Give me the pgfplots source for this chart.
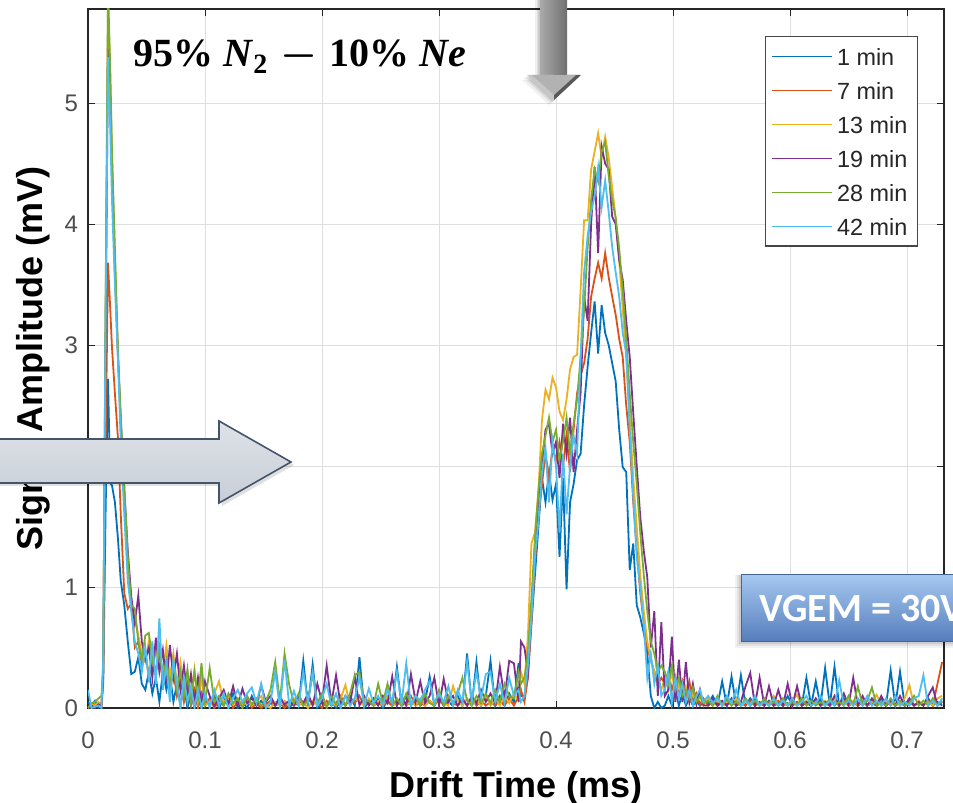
\documentclass[border=0pt]{standalone}
\usepackage{fontspec}
\setmainfont{Liberation Sans}
\newfontfamily\carlito{Carlito}
\newfontfamily\serifb{Liberation Serif}
\usepackage{pgfplots}
\usepackage{pgfplotstable}
\pgfplotsset{compat=1.18}
\definecolor{c1}{RGB}{0,114,189}
\definecolor{c2}{RGB}{217,83,25}
\definecolor{c3}{RGB}{237,177,32}
\definecolor{c4}{RGB}{126,47,142}
\definecolor{c5}{RGB}{119,172,48}
\definecolor{c6}{RGB}{77,190,238}
\definecolor{axcol}{RGB}{38,38,38}
\definecolor{legcol}{RGB}{70,70,70}
\definecolor{gridc}{RGB}{223,223,223}
\definecolor{ticklab}{RGB}{77,77,77}
\definecolor{ag1}{RGB}{170,170,170}
\definecolor{ag2}{RGB}{112,112,112}
\definecolor{arfill1}{RGB}{222,226,232}
\definecolor{arfill2}{RGB}{200,206,215}
\definecolor{arline}{RGB}{68,84,106}
\definecolor{bx1}{RGB}{165,200,240}
\definecolor{bx2}{RGB}{125,162,214}
\definecolor{bx3}{RGB}{85,125,188}

\pgfplotstableread{
x a b c d e f
0.000 0.05 0.00 0.00 0.00 0.00 0.15
0.003 0.02 0.02 0.03 0.02 0.04 0.00
0.006 0.06 0.03 0.02 0.00 0.05 0.01
0.009 0.00 0.02 0.05 0.03 0.08 0.02
0.0115 0.03 0.01 0.02 0.01 0.10 0.00
0.013 0.20 0.25 0.30 0.30 0.35 0.40
0.015 1.60 2.10 3.20 3.00 3.30 3.20
0.0171 2.72 3.68 5.85 5.45 5.95 5.38
0.019 1.86 3.30 5.20 5.00 5.30 4.80
0.0205 1.84 2.98 4.60 4.40 4.60 4.20
0.023 1.70 2.60 3.70 3.60 3.80 3.50
0.0256 1.40 2.23 2.95 2.90 2.95 2.88
0.028 1.05 1.60 2.30 2.40 2.40 2.20
0.031 0.85 0.95 1.75 1.80 1.85 1.60
0.034 0.55 0.82 1.20 1.30 1.25 1.05
0.037 0.28 0.86 0.88 0.92 0.85 0.80
0.040 0.30 0.50 0.75 0.70 0.82 0.55
0.043 0.42 0.55 0.60 0.93 0.55 0.45
0.046 0.20 0.36 0.45 0.55 0.40 0.30
0.049 0.15 0.48 0.38 0.40 0.60 0.50
0.052 0.30 0.25 0.55 0.50 0.62 0.22
0.055 0.12 0.40 0.30 0.25 0.40 0.55
0.058 0.25 0.30 0.48 0.58 0.30 0.20
0.061 0.05 0.45 0.35 0.30 0.50 0.74
0.064 0.30 0.20 0.30 0.48 0.25 0.15
0.067 0.15 0.35 0.52 0.20 0.40 0.35
0.070 0.28 0.15 0.25 0.52 0.18 0.05
0.073 0.05 0.30 0.45 0.25 0.35 0.40
0.076 0.20 0.10 0.20 0.45 0.15 0.20
0.079 0.02 0.25 0.38 0.15 0.30 0.00
0.082 0.18 0.05 0.15 0.35 0.10 0.25
0.085 0.00 0.20 0.30 0.10 0.32 0.05
0.088 0.12 0.02 0.10 0.28 0.05 0.18
0.091 0.00 0.15 0.32 0.05 0.30 0.00
0.094 0.10 0.00 0.05 0.25 0.08 0.15
0.097 0.00 0.12 0.25 0.02 0.37 0.00
0.100 0.08 0.02 0.02 0.22 0.05 0.12
0.104 0.02 0.08 0.05 0.10 0.33 0.00
0.108 0.10 0.00 0.12 0.02 0.05 0.15
0.112 0.00 0.06 0.22 0.08 0.10 0.02
0.116 0.08 0.02 0.04 0.15 0.02 0.12
0.120 0.02 0.10 0.10 0.03 0.12 0.00
0.124 0.12 0.00 0.03 0.18 0.04 0.08
0.128 0.00 0.05 0.08 0.02 0.08 0.15
0.132 0.05 0.02 0.02 0.16 0.00 0.05
0.136 0.00 0.08 0.06 0.04 0.10 0.12
0.140 0.10 0.00 0.02 0.08 0.03 0.17
0.144 0.02 0.04 0.05 0.02 0.08 0.04
0.148 0.06 0.00 0.10 0.19 0.02 0.20
0.152 0.00 0.03 0.02 0.05 0.06 0.00
0.156 0.04 0.06 0.00 0.10 0.15 0.05
0.160 0.02 0.02 0.05 0.02 0.38 0.30
0.164 0.10 0.04 0.02 0.08 0.05 0.00
0.168 0.02 0.00 0.06 0.03 0.45 0.40
0.172 0.00 0.05 0.02 0.06 0.19 0.02
0.176 0.05 0.02 0.08 0.02 0.04 0.14
0.180 0.02 0.06 0.02 0.10 0.12 0.02
0.184 0.39 0.02 0.05 0.04 0.02 0.30
0.188 0.02 0.08 0.00 0.12 0.06 0.05
0.192 0.36 0.03 0.06 0.02 0.28 0.30
0.196 0.00 0.05 0.02 0.20 0.04 0.02
0.200 0.05 0.00 0.10 0.05 0.12 0.08
0.204 0.02 0.06 0.02 0.35 0.00 0.20
0.208 0.08 0.02 0.05 0.04 0.10 0.02
0.212 0.00 0.04 0.02 0.27 0.03 0.12
0.216 0.06 0.10 0.08 0.02 0.08 0.00
0.220 0.02 0.02 0.19 0.10 0.02 0.10
0.224 0.10 0.08 0.02 0.04 0.12 0.02
0.228 0.02 0.04 0.08 0.26 0.27 0.08
0.232 0.42 0.10 0.05 0.02 0.30 0.25
0.236 0.00 0.02 0.02 0.10 0.05 0.02
0.240 0.05 0.06 0.08 0.02 0.06 0.16
0.244 0.02 0.02 0.02 0.08 0.02 0.04
0.248 0.08 0.04 0.06 0.02 0.20 0.10
0.252 0.00 0.02 0.02 0.10 0.04 0.02
0.256 0.06 0.05 0.10 0.04 0.20 0.15
0.260 0.02 0.02 0.04 0.26 0.02 0.05
0.264 0.34 0.06 0.02 0.02 0.08 0.30
0.268 0.02 0.02 0.08 0.10 0.02 0.04
0.272 0.10 0.04 0.02 0.02 0.12 0.37
0.276 0.02 0.10 0.05 0.28 0.04 0.02
0.280 0.08 0.02 0.02 0.05 0.10 0.10
0.284 0.02 0.05 0.08 0.22 0.02 0.06
0.288 0.05 0.02 0.02 0.04 0.12 0.15
0.292 0.26 0.06 0.06 0.10 0.04 0.22
0.296 0.02 0.02 0.02 0.25 0.02 0.04
0.300 0.08 0.08 0.10 0.02 0.15 0.12
0.304 0.02 0.02 0.04 0.24 0.02 0.05
0.308 0.05 0.10 0.02 0.05 0.10 0.18
0.312 0.02 0.04 0.18 0.10 0.04 0.02
0.316 0.10 0.02 0.06 0.02 0.12 0.15
0.320 0.02 0.06 0.02 0.08 0.25 0.05
0.324 0.45 0.02 0.08 0.02 0.06 0.38
0.328 0.02 0.08 0.02 0.10 0.02 0.05
0.332 0.38 0.02 0.06 0.04 0.10 0.30
0.336 0.02 0.06 0.02 0.15 0.04 0.08
0.340 0.10 0.02 0.10 0.05 0.12 0.28
0.344 0.39 0.05 0.02 0.12 0.04 0.30
0.348 0.02 0.02 0.08 0.04 0.15 0.05
0.352 0.10 0.06 0.02 0.34 0.05 0.20
0.356 0.02 0.02 0.10 0.08 0.20 0.04
0.360 0.12 0.08 0.04 0.39 0.10 0.25
0.364 0.05 0.02 0.12 0.37 0.08 0.10
0.368 0.37 0.10 0.06 0.05 0.30 0.15
0.370 0.10 0.15 0.30 0.55 0.20 0.05
0.373 0.10 0.05 0.20 0.50 0.25 0.10
0.376 0.30 0.25 0.60 0.30 0.45 0.35
0.379 0.70 0.70 1.36 0.80 0.90 0.75
0.382 1.10 1.20 1.45 1.35 1.40 1.25
0.385 1.50 1.60 1.80 1.70 1.80 1.55
0.388 1.90 1.85 2.38 2.00 2.10 1.95
0.391 1.70 2.10 2.63 2.30 2.25 2.15
0.394 1.95 1.90 2.55 2.35 2.40 1.70
0.397 1.72 2.15 2.73 2.10 2.20 2.20
0.400 1.85 2.05 2.65 2.20 2.30 2.00
0.403 1.25 2.20 2.45 1.90 2.05 1.45
0.406 1.90 2.00 2.38 2.35 2.20 2.10
0.409 0.98 2.25 2.55 2.10 2.40 1.60
0.412 1.70 1.95 2.80 2.40 2.10 2.00
0.415 1.85 2.30 2.90 1.95 2.35 2.25
0.418 2.05 2.60 2.92 2.30 2.55 2.10
0.421 2.10 2.75 3.45 2.60 2.90 2.90
0.424 2.50 2.85 4.03 3.40 3.30 3.60
0.427 2.82 3.05 4.03 3.20 3.80 3.90
0.430 3.10 3.40 4.45 4.00 4.20 4.10
0.433 3.36 3.55 4.60 4.47 4.45 4.23
0.436 2.93 3.68 4.75 3.76 4.35 4.47
0.439 3.33 3.55 4.55 4.64 4.60 4.14
0.442 3.10 3.76 4.72 4.50 4.68 4.36
0.445 3.00 3.56 4.55 4.45 4.40 4.10
0.448 2.85 3.40 4.30 4.06 4.20 3.81
0.451 2.70 3.25 4.05 4.00 4.05 3.60
0.454 2.30 3.05 3.70 3.70 3.80 3.40
0.457 1.99 2.90 3.30 3.54 3.45 3.10
0.460 1.95 2.50 2.90 3.20 3.05 2.93
0.463 1.14 2.20 2.40 2.90 2.60 2.30
0.466 1.36 1.70 1.90 2.44 2.20 1.75
0.469 0.85 1.30 1.50 2.00 1.85 1.25
0.472 0.75 0.95 1.10 1.58 1.45 1.00
0.475 0.62 0.70 0.80 1.30 1.10 0.70
0.478 0.45 0.50 0.55 1.08 0.80 0.25
0.481 0.10 0.40 0.40 0.50 0.55 0.45
0.484 0.00 0.30 0.30 0.80 0.45 0.20
0.487 0.05 0.20 0.22 0.10 0.30 0.35
0.490 0.00 0.25 0.15 0.71 0.35 0.10
0.493 0.02 0.20 0.25 0.10 0.30 0.15
0.496 0.10 0.30 0.15 0.15 0.20 0.30
0.499 0.02 0.15 0.30 0.59 0.35 0.05
0.502 0.15 0.25 0.10 0.05 0.15 0.25
0.505 0.02 0.10 0.20 0.40 0.25 0.08
0.508 0.12 0.22 0.08 0.05 0.10 0.20
0.511 0.02 0.08 0.18 0.38 0.15 0.05
0.514 0.08 0.22 0.05 0.05 0.08 0.15
0.517 0.02 0.05 0.12 0.20 0.17 0.02
0.520 0.06 0.12 0.04 0.03 0.05 0.10
0.523 0.02 0.03 0.10 0.15 0.10 0.15
0.526 0.05 0.08 0.02 0.02 0.04 0.05
0.530 0.04 0.02 0.08 0.02 0.06 0.10
0.534 0.10 0.05 0.02 0.08 0.02 0.04
0.538 0.02 0.02 0.06 0.02 0.10 0.08
0.542 0.22 0.04 0.02 0.06 0.02 0.02
0.546 0.02 0.02 0.05 0.02 0.08 0.10
0.550 0.26 0.06 0.02 0.08 0.02 0.04
0.554 0.02 0.02 0.08 0.02 0.05 0.15
0.558 0.27 0.04 0.02 0.05 0.02 0.02
0.562 0.02 0.02 0.05 0.18 0.08 0.06
0.566 0.08 0.06 0.02 0.29 0.02 0.02
0.570 0.02 0.02 0.08 0.02 0.06 0.10
0.574 0.05 0.04 0.02 0.25 0.02 0.02
0.578 0.02 0.02 0.06 0.02 0.08 0.05
0.582 0.06 0.05 0.02 0.18 0.02 0.02
0.586 0.02 0.02 0.10 0.02 0.05 0.08
0.590 0.04 0.06 0.02 0.15 0.02 0.02
0.594 0.02 0.02 0.05 0.02 0.08 0.06
0.598 0.10 0.04 0.02 0.20 0.02 0.02
0.602 0.02 0.02 0.06 0.02 0.05 0.08
0.606 0.05 0.05 0.11 0.18 0.02 0.02
0.610 0.02 0.02 0.02 0.02 0.08 0.05
0.614 0.25 0.04 0.06 0.05 0.02 0.10
0.618 0.02 0.02 0.02 0.02 0.06 0.02
0.622 0.22 0.06 0.05 0.08 0.02 0.04
0.626 0.02 0.02 0.02 0.02 0.05 0.10
0.630 0.33 0.04 0.06 0.05 0.02 0.02
0.634 0.02 0.02 0.02 0.02 0.08 0.06
0.638 0.34 0.05 0.08 0.10 0.02 0.02
0.642 0.02 0.02 0.02 0.02 0.05 0.23
0.646 0.08 0.06 0.05 0.12 0.02 0.02
0.650 0.02 0.02 0.02 0.02 0.10 0.06
0.654 0.05 0.04 0.06 0.25 0.02 0.02
0.658 0.02 0.02 0.02 0.02 0.18 0.08
0.662 0.06 0.05 0.08 0.10 0.02 0.02
0.666 0.02 0.02 0.02 0.02 0.06 0.10
0.670 0.04 0.06 0.05 0.08 0.17 0.02
0.674 0.02 0.02 0.11 0.02 0.02 0.06
0.678 0.08 0.04 0.02 0.10 0.05 0.02
0.682 0.02 0.02 0.06 0.02 0.02 0.08
0.686 0.31 0.05 0.02 0.06 0.08 0.02
0.690 0.02 0.02 0.05 0.02 0.02 0.10
0.694 0.30 0.04 0.02 0.10 0.06 0.02
0.698 0.02 0.02 0.08 0.02 0.02 0.05
0.702 0.06 0.05 0.19 0.08 0.04 0.02
0.706 0.02 0.02 0.02 0.02 0.10 0.08
0.710 0.05 0.04 0.06 0.05 0.02 0.10
0.714 0.02 0.02 0.02 0.02 0.06 0.27
0.718 0.08 0.06 0.05 0.10 0.02 0.02
0.722 0.02 0.02 0.02 0.17 0.08 0.06
0.726 0.05 0.20 0.08 0.02 0.02 0.02
0.730 0.02 0.38 0.10 0.05 0.06 0.08
}\data

\begin{document}
\begin{tikzpicture}
\path[use as bounding box] (-44pt,-47.5pt) rectangle (432.5pt,354pt);
\clip (-44pt,-47.5pt) rectangle (432.5pt,354pt);
\begin{axis}[
  at={(0,0)}, anchor=south west,
  scale only axis, width=428pt, height=349.5pt,
  xmin=0, xmax=0.7316, ymin=0, ymax=5.777,
  xtick={0,0.1,0.2,0.3,0.4,0.5,0.6,0.7},
  ytick={0,1,2,3,4,5},
  scaled x ticks=false,
  grid=major,
  major grid style={gridc, line width=0.5pt},
  tick align=inside, major tick length=3.5pt,
  every tick/.style={axcol, line width=0.5pt},
  axis line style={axcol, line width=0.6pt},
  tick label style={font=\fontsize{12}{13}\selectfont, text=ticklab},
  /pgf/number format/assume math mode=true,
  xticklabel style={yshift=-8.5pt},
  yticklabel style={xshift=-1.5pt},
  xlabel={Drift Time (ms)},
  ylabel={Signal Amplitude (mV)},
  label style={font=\fontsize{18}{20}\selectfont\bfseries},
  xlabel style={at={([yshift=-44.5pt]axis description cs:0.5,0)}, anchor=base},
  ylabel style={at={([xshift=-22.5pt]axis description cs:0,0.5)}, anchor=base},
  legend style={at={(0.9695,0.961)}, anchor=north east, draw=legcol, line width=0.6pt,
    fill=white, inner xsep=3pt, inner ysep=1.3pt, font=\fontsize{11.7}{12}\selectfont, text=axcol,
    nodes={text height=8.6pt, text depth=0pt, inner ysep=4.2pt, inner xsep=2pt},
    row sep=0pt},
  legend cell align=left,
  legend image code/.code={\draw[#1, line width=0.7pt] (0pt,0pt) -- (30pt,0pt);},
]
\addplot[c1, line width=0.9pt] table[x=x, y=a] {\data};
\addlegendentry{1 min}
\addplot[c2, line width=0.9pt] table[x=x, y=b] {\data};
\addlegendentry{7 min}
\addplot[c3, line width=0.9pt] table[x=x, y=c] {\data};
\addlegendentry{13 min}
\addplot[c4, line width=0.9pt] table[x=x, y=d] {\data};
\addlegendentry{19 min}
\addplot[c5, line width=0.9pt] table[x=x, y=e] {\data};
\addlegendentry{28 min}
\addplot[c6, line width=0.9pt] table[x=x, y=f] {\data};
\addlegendentry{42 min}
\end{axis}

% title text
\node[anchor=base west, inner sep=0] at (22.5pt,320.5pt)
  {\serifb\bfseries\fontsize{20}{22}\selectfont 95\% \textit{N}\textsubscript{2}\hspace{0.3em}{\boldmath$-$}\hspace{0.3em}10\% \textit{Ne}};

% down arrow (shadow + body)
\foreach \s/\o in {2.5/0.06,1.5/0.08,0.8/0.10}{
  \fill[black, opacity=\o] ([shift={(-\s pt,-\s pt)}]226pt,360pt) -- ++(0,-43.5pt) -- ++(-6.5pt,0) -- ++(13.5pt,-12.5pt) -- ++(13.5pt,12.5pt) -- ++(-7pt,0) -- ++(0,43.5pt) -- cycle;
}
\shade[left color=ag1, right color=ag2] (226pt,316.5pt) rectangle (239.5pt,360pt);
\fill[gray!45] (219.5pt,316.5pt) -- (233pt,316.5pt) -- (233pt,304pt) -- cycle;
\fill[gray!70!black] (233pt,316.5pt) -- (246.5pt,316.5pt) -- (233pt,304pt) -- cycle;
\fill[gray!60] (222pt,316.5pt) -- (244pt,316.5pt) -- (233pt,306.5pt) -- cycle;

% right arrow (left side)
\fill[black, opacity=0.12] (-50pt,133pt) -- (67pt,133pt) -- (67pt,142pt) -- (103pt,121.5pt) -- (67pt,101pt) -- (67pt,111pt) -- (-50pt,111pt) -- cycle;
\shade[top color=arfill1, bottom color=arfill2, draw=arline, line width=0.8pt]
  (-50pt,134.5pt) -- (65.5pt,134.5pt) -- (65.5pt,143.5pt) -- (101.5pt,123pt) -- (65.5pt,102.5pt) -- (65.5pt,112.5pt) -- (-50pt,112.5pt) -- cycle;

% blue box
\foreach \s/\o in {3/0.05,2/0.07,1/0.09}{
  \fill[black, opacity=\o] (326.5pt-\s pt,33pt-\s pt) rectangle (460pt,66.5pt);
}
\shade[top color=bx1, middle color=bx2, bottom color=bx3] (326.5pt,33pt) rectangle (460pt,66.5pt);
\draw[bx3!80!black, line width=0.5pt] (326.5pt,33pt) rectangle (460pt,66.5pt);
\node[anchor=base west, inner sep=0, text=white] at (335.5pt,43pt)
  {\carlito\bfseries\fontsize{20}{22}\selectfont VGEM = 30V};
\end{tikzpicture}
\end{document}
